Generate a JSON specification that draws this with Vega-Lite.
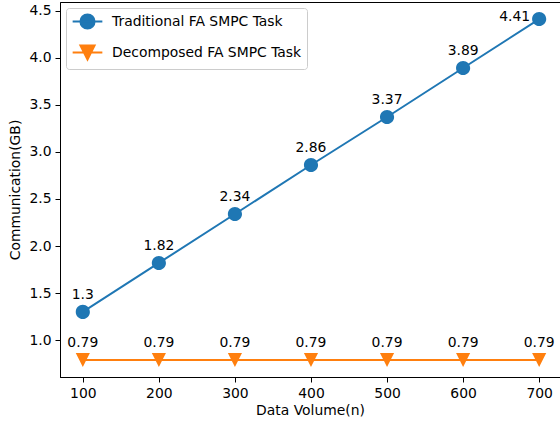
{
  "$schema": "https://vega.github.io/schema/vega-lite/v6.json",
  "width": 500,
  "height": 375,
  "autosize": {"type": "none"},
  "padding": {"left": 60, "top": 2, "right": 0, "bottom": 48},
  "background": "white",
  "config": {
    "font": "DejaVu Sans",
    "view": {"stroke": "black", "strokeWidth": 1},
    "axis": {
      "grid": false,
      "domainColor": "black",
      "domainWidth": 1,
      "tickColor": "black",
      "tickSize": 5,
      "tickWidth": 1,
      "labelColor": "black",
      "labelFontSize": 13.9,
      "labelPadding": 4,
      "titleFontSize": 13.9,
      "titleFontWeight": "normal",
      "titleColor": "black",
      "labelFont": "DejaVu Sans",
      "titleFont": "DejaVu Sans"
    }
  },
  "data": {
    "values": [
      {"x": 100, "y": 1.3, "series": "Traditional FA SMPC Task"},
      {"x": 200, "y": 1.82, "series": "Traditional FA SMPC Task"},
      {"x": 300, "y": 2.34, "series": "Traditional FA SMPC Task"},
      {"x": 400, "y": 2.86, "series": "Traditional FA SMPC Task"},
      {"x": 500, "y": 3.37, "series": "Traditional FA SMPC Task"},
      {"x": 600, "y": 3.89, "series": "Traditional FA SMPC Task"},
      {"x": 700, "y": 4.41, "series": "Traditional FA SMPC Task"},
      {"x": 100, "y": 0.79, "series": "Decomposed FA SMPC Task"},
      {"x": 200, "y": 0.79, "series": "Decomposed FA SMPC Task"},
      {"x": 300, "y": 0.79, "series": "Decomposed FA SMPC Task"},
      {"x": 400, "y": 0.79, "series": "Decomposed FA SMPC Task"},
      {"x": 500, "y": 0.79, "series": "Decomposed FA SMPC Task"},
      {"x": 600, "y": 0.79, "series": "Decomposed FA SMPC Task"},
      {"x": 700, "y": 0.79, "series": "Decomposed FA SMPC Task"}
    ]
  },
  "layer": [
    {
      "mark": {"type": "line", "strokeWidth": 2},
      "encoding": {
        "x": {
          "field": "x", "type": "quantitative",
          "scale": {"domain": [70, 727.4], "nice": false, "zero": false},
          "axis": {"values": [100, 200, 300, 400, 500, 600, 700], "title": "Data Volume(n)", "titlePadding": 4}
        },
        "y": {
          "field": "y", "type": "quantitative",
          "scale": {"domain": [0.609, 4.591], "nice": false, "zero": false},
          "axis": {"values": [1.0, 1.5, 2.0, 2.5, 3.0, 3.5, 4.0, 4.5], "format": ".1f", "title": "Communication(GB)", "titlePadding": 6}
        },
        "color": {
          "field": "series", "type": "nominal",
          "scale": {"domain": ["Traditional FA SMPC Task", "Decomposed FA SMPC Task"], "range": ["#1f77b4", "#ff7f0e"]},
          "legend": {
            "title": null,
            "orient": "top-left",
            "offset": 6,
            "fillColor": "rgba(255,255,255,0.8)",
            "strokeColor": "#cccccc",
            "cornerRadius": 3,
            "padding": 5,
            "symbolSize": 200,
            "symbolOffset": 8,
            "symbolStrokeWidth": 2,
            "labelOffset": 16,
            "labelLimit": 0,
            "labelFontSize": 13.9,
            "labelColor": "black",
            "labelFont": "DejaVu Sans",
            "rowPadding": 8
          }
        }
      }
    },
    {
      "mark": {"type": "point", "filled": true, "opacity": 1, "size": 200},
      "encoding": {
        "x": {"field": "x", "type": "quantitative"},
        "y": {"field": "y", "type": "quantitative"},
        "color": {"field": "series", "type": "nominal"},
        "shape": {
          "field": "series", "type": "nominal",
          "scale": {"domain": ["Traditional FA SMPC Task", "Decomposed FA SMPC Task"], "range": ["M-2.1,0H2.1M-1,0A1,1 0 1,1 1,0A1,1 0 1,1 -1,0Z", "M-2.1,0H2.1M-1,-1L1,-1L0,1Z"]},
          "legend": {"title": null}
        }
      }
    },
    {
      "transform": [{"filter": "!(datum.series == 'Traditional FA SMPC Task' && datum.x == 700)"}],
      "mark": {"type": "text", "fontSize": 13.9, "dy": -17, "baseline": "middle", "align": "center", "color": "black"},
      "encoding": {
        "x": {"field": "x", "type": "quantitative"},
        "y": {"field": "y", "type": "quantitative"},
        "text": {"field": "y", "type": "nominal"}
      }
    },
    {
      "transform": [{"filter": "datum.series == 'Traditional FA SMPC Task' && datum.x == 700"}],
      "mark": {"type": "text", "fontSize": 13.9, "dx": -9, "dy": -2, "baseline": "middle", "align": "right", "color": "black"},
      "encoding": {
        "x": {"field": "x", "type": "quantitative"},
        "y": {"field": "y", "type": "quantitative"},
        "text": {"field": "y", "type": "nominal"}
      }
    }
  ]
}
